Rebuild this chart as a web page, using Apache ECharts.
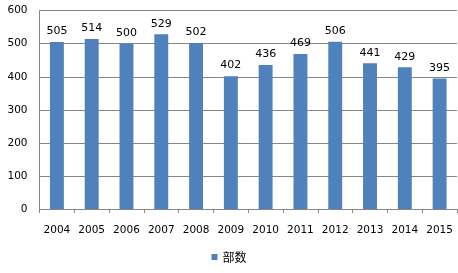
<!DOCTYPE html>
<html>
<head>
<meta charset="utf-8">
<script src="https://cdn.jsdelivr.net/npm/echarts@6/dist/echarts.min.js"></script>
<style>html,body{margin:0;padding:0;background:#fff;}#c{width:458px;height:273px;}</style>
</head>
<body>
<div id="c"></div>
<script>
const categories = ['2004','2005','2006','2007','2008','2009','2010','2011','2012','2013','2014','2015'];
const values = [505, 514, 500, 529, 502, 402, 436, 469, 506, 441, 429, 395];
const seriesName = '部数';
const font = 'DejaVu Sans, Verdana, sans-serif';
const chart = echarts.init(document.getElementById('c'), null, {renderer: 'canvas'});
chart.setOption({
  animation: false,
  backgroundColor: '#fff',
  grid: {left: 39.5, right: 1, top: 10.7, bottom: 64, containLabel: false},
  legend: {
    data: [seriesName], top: 251, left: 'center', padding: 0,
    icon: 'rect', itemWidth: 6, itemHeight: 6, itemGap: 5,
    textStyle: {fontFamily: 'Noto Sans CJK SC', fontSize: 12, color: '#000'}
  },
  xAxis: {
    type: 'category', data: categories,
    axisLine: {lineStyle: {color: '#868686', width: 1}},
    axisTick: {show: true, length: 4, interval: 0, lineStyle: {color: '#868686'}},
    axisLabel: {fontFamily: font, fontSize: 10.5, color: '#000', margin: 16, interval: 0}
  },
  yAxis: {
    type: 'value', min: 0, max: 600, interval: 100,
    axisLine: {show: true, lineStyle: {color: '#868686', width: 1}},
    axisTick: {show: false},
    splitLine: {lineStyle: {color: '#868686', width: 1}},
    axisLabel: {fontFamily: font, fontSize: 10.5, color: '#000', margin: 12}
  },
  series: [{
    name: seriesName, type: 'bar', data: values,
    barWidth: '40%',
    itemStyle: {color: '#4F81BD'},
    label: {show: true, position: 'top', distance: 5, fontFamily: font, fontSize: 11, color: '#000'}
  }]
});
</script>
</body>
</html>
